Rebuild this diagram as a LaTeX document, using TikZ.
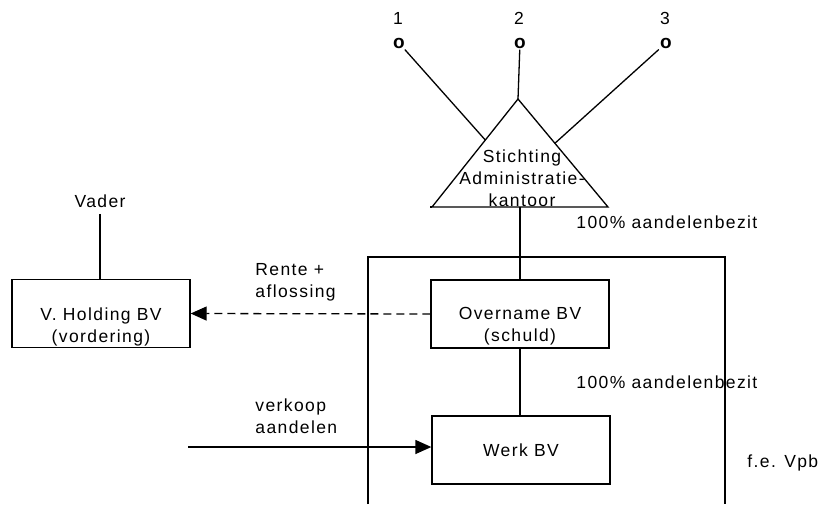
\documentclass[tikz,border=0pt]{standalone}
\usepackage{fontspec}
\setmainfont{Liberation Sans}[LetterSpace=8]
\usepackage{tikz}
\usetikzlibrary{calc}
\usetikzlibrary{arrows.meta}
\tikzstyle{bvbox} = [draw=black, line width=0.65pt, rectangle,
minimum width=89pt, minimum height=34pt, inner sep=0pt]
\tikzstyle{boxtext} = [align=center, inner sep=0pt]
\tikzstyle{plain} = [inner sep=0pt, align=left, anchor=west]
\tikzstyle{link} = [line width=0.65pt]
\tikzstyle{tip} = [-{Triangle[length=8pt,width=7pt]}]

\begin{document}
\begin{tikzpicture}[x=0.5pt, y=-0.5pt, font=\fontsize{8.75}{11}\selectfont]
    \useasboundingbox (0,0) rectangle (818,504);
    \foreach \n/\x in {1/399,2/520,3/666}{
        \node[font=\fontsize{9.5}{10}\selectfont\bfseries, inner sep=0.5pt] (o\n) at (\x,43) {o};
        \node (nr\n) at (\x-1,18) {\n};
    }
    \coordinate (apex) at (518,99);
    \coordinate (bl) at (432,207);
    \coordinate (br) at (608,207);
    \coordinate (stakL) at ($(apex)!0.38!(bl)$);
    \coordinate (stakR) at ($(apex)!0.41!(br)$);
    \coordinate (stakB) at ($(bl)!0.5!(br)$);
    \draw[link] (apex) -- (bl) -- (br) -- cycle;
    \draw[link] (bl) -- ++(-2,0);
    \node[boxtext] (stak) at (522,178) {Stichting\\Administratie-\\kantoor};
    \draw[link] (o1) -- (stakL);
    \draw[link] (o2) -- (apex);
    \draw[link] (o3) -- (stakR);

    \node[bvbox] (overname) at (520,314) {};
    \node[boxtext] (overnametxt) at (520,326) {Overname BV\\(schuld)};
    \node[bvbox] (werk) at (521,450) {Werk BV};
    \node[bvbox] (holding) at (101,313.5) {};
    \node[boxtext] (holdingtxt) at (101,327) {V. Holding BV\\(vordering)};
    \node[inner sep=3pt] (vader) at (100,201) {Vader};

    \draw[link] (stakB) -- (stakB |- overname.north);
    \draw[link] (overname.south) -- (overname.south |- werk.north);
    \draw[link] (vader) -- (vader |- holding.north);
    \draw[link, tip, dash pattern=on 4pt off 2.5pt] (overname.west) -- (holding.east);
    \coordinate (verkoop) at (188,447);
    \draw[link, tip] (verkoop) -- (verkoop -| werk.west);
    \draw[link] (368,504) -- (368,257) -- (725,257) -- (725,504);

    \node[plain] (rente) at (255,282) {Rente +\\aflossing};
    \node[plain] (verkooptxt) at (255,416) {verkoop\\aandelen};
    \node[plain] (bezit1) at (576,222) {100\% aandelenbezit};
    \node[plain] (bezit2) at (576,382) {100\% aandelenbezit};
    \node[plain] (vpb) at (747,463) {f.e. Vpb};
\end{tikzpicture}
\end{document}
